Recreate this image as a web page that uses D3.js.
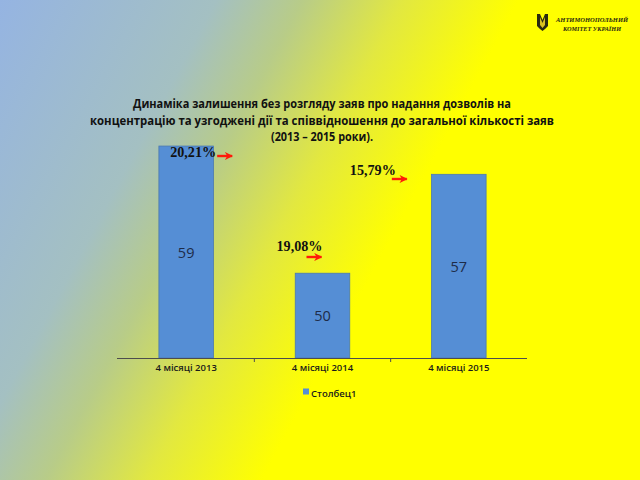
<!DOCTYPE html>
<html><head><meta charset="utf-8">
<script src="https://cdn.jsdelivr.net/npm/d3@7"></script>
<style>html,body{margin:0;padding:0;overflow:hidden;background:#fff}</style>
</head><body><div id="chart"></div>
<script>
const categories = ["4 місяці 2013", "4 місяці 2014", "4 місяці 2015"];
const values = [59, 50, 57];
const percentLabels = ["20,21%", "19,08%", "15,79%"];
const seriesName = "Столбец1";
const titleLines = [
  "Динаміка залишення без розгляду заяв про надання дозволів на",
  "концентрацію та узгоджені дії та співвідношення до загальної кількості заяв",
  "(2013 – 2015 роки)."
];
const logoLines = ["АНТИМОНОПОЛЬНИЙ", "КОМІТЕТ УКРАЇНИ"];

const W = 640, H = 480;
const svg = d3.select("#chart").append("svg").attr("width", W).attr("height", H);
const defs = svg.append("defs");
const grad = defs.append("linearGradient").attr("id", "bg")
  .attr("gradientUnits", "userSpaceOnUse")
  .attr("x1", 0).attr("y1", 0).attr("x2", 560).attr("y2", 300);
[[0, "#95b4e2"], [0.3, "#a4c0c2"], [0.42, "#b8cc88"], [0.56, "#e2e840"], [0.72, "#ffff00"], [1, "#ffff00"]]
  .forEach(([o, c]) => grad.append("stop").attr("offset", o).attr("stop-color", c));
svg.append("rect").attr("width", W).attr("height", H).attr("fill", "url(#bg)");

// arrow marker
defs.append("marker").attr("id", "arr").attr("viewBox", "0 0 10 10")
  .attr("refX", 9).attr("refY", 5).attr("markerWidth", 3.4).attr("markerHeight", 3.4)
  .attr("markerUnits", "strokeWidth").attr("orient", "auto")
  .append("path").attr("d", "M0,0 L10,5 L0,10 L3,5 Z").attr("fill", "#ff1a0a");

// title
svg.append("g").selectAll("text").data(titleLines).join("text")
  .attr("x", 322).attr("y", (d, i) => 108 + i * 16.5)
  .attr("text-anchor", "middle")
  .attr("font-family", "'Open Sans', 'Liberation Sans', sans-serif")
  .attr("font-weight", "bold").attr("font-size", 12.5).attr("fill", "#111")
  .attr("textLength", (d, i) => [378, 464, 102][i]).attr("lengthAdjust", "spacingAndGlyphs")
  .text(d => d);

// scales
const x = d3.scaleBand().domain(categories).range([118, 527]).paddingInner(0.6).paddingOuter(0.3);
const y = d3.scaleLinear().domain([44, 60]).range([358, 358 - 16 * 14.13]);

// bars
svg.append("g").selectAll("rect").data(values).join("rect")
  .attr("x", (d, i) => x(categories[i]))
  .attr("y", d => y(d))
  .attr("width", x.bandwidth())
  .attr("height", d => y(44) - y(d))
  .attr("fill", "#558ed5").attr("stroke", "#4a78b0").attr("stroke-width", 0.8);

// value labels
svg.append("g").selectAll("text").data(values).join("text")
  .attr("x", (d, i) => x(categories[i]) + x.bandwidth() / 2)
  .attr("y", d => (y(d) + y(44)) / 2 + 5.5)
  .attr("text-anchor", "middle")
  .attr("font-family", "'Open Sans', 'Liberation Sans', sans-serif")
  .attr("font-size", 14.5).attr("fill", "#1d2b48")
  .text(d => d);

// axis
const axis = d3.axisBottom(x).tickSize(0).tickPadding(8);
const ag = svg.append("g").attr("transform", `translate(0,${y(44)})`).call(axis);
ag.select(".domain").attr("stroke", "#4d4d4d").attr("stroke-width", 1).attr("d", "M117,0.5H527");
ag.selectAll(".tick text").attr("font-family", "'Open Sans', 'Liberation Sans', sans-serif")
  .attr("font-size", 9.5).attr("font-weight", "600").attr("fill", "#1a1a1a").attr("dy", "0.55em");
// between-category ticks
const bounds = categories.slice(1).map(c => x(c) - x.step() * x.paddingInner() / 2);
ag.selectAll(".sep").data(bounds).join("line").attr("class", "sep")
  .attr("x1", d => d).attr("x2", d => d).attr("y1", 0).attr("y2", 4)
  .attr("stroke", "#4d4d4d").attr("stroke-width", 1);

// percent annotations with arrows
const annOffsetX = [7, -23, -86];
const annY = [157, 251, 175];
const ann = svg.append("g");
percentLabels.forEach((p, i) => {
  const cx = x(categories[i]) + x.bandwidth() / 2 + annOffsetX[i];
  ann.append("text").attr("x", cx).attr("y", annY[i]).attr("text-anchor", "middle")
    .attr("font-family", "'Liberation Serif', 'DejaVu Serif', serif")
    .attr("font-weight", "bold").attr("font-size", 15).attr("fill", "#111")
    .attr("textLength", 46).attr("lengthAdjust", "spacingAndGlyphs")
    .text(p);
  const ax = cx + [24, 7, 19][i], ay = annY[i] + [-1, 6, 4][i];
  ann.append("line").attr("x1", ax).attr("x2", ax + 15).attr("y1", ay).attr("y2", ay)
    .attr("stroke", "#ff1a0a").attr("stroke-width", 2.4).attr("marker-end", "url(#arr)");
});

// legend
const lg = svg.append("g");
lg.append("rect").attr("x", 303).attr("y", 388.5).attr("width", 6).attr("height", 6).attr("fill", "#558ed5");
lg.append("text").attr("x", 311).attr("y", 396.5).attr("font-family", "'Open Sans', 'Liberation Sans', sans-serif")
  .attr("font-size", 9.5).attr("font-weight", "600").attr("fill", "#1a1a1a").text(seriesName);

// logo
const logo = svg.append("g");
logo.append("path").attr("d", "M537,14 L540,14 L542.5,20 L545,14 L548,14 L548,26 L545,29 L542.5,31 L540,29 L537,26 Z")
  .attr("fill", "#2a2a10");
logo.append("path").attr("d", "M540,17 L542.5,23 L545,17 L545,25 L542.5,28 L540,25 Z").attr("fill", "#d8c020");
logo.selectAll("text").data(logoLines).join("text")
  .attr("x", 592).attr("y", (d, i) => 22 + i * 8.5).attr("text-anchor", "middle")
  .attr("font-family", "'Liberation Serif', serif").attr("font-style", "italic").attr("font-weight", "bold")
  .attr("font-size", 7).attr("fill", "#2a2a10")
  .attr("textLength", (d, i) => [72, 58][i]).attr("lengthAdjust", "spacingAndGlyphs")
  .text(d => d);
</script></body></html>
